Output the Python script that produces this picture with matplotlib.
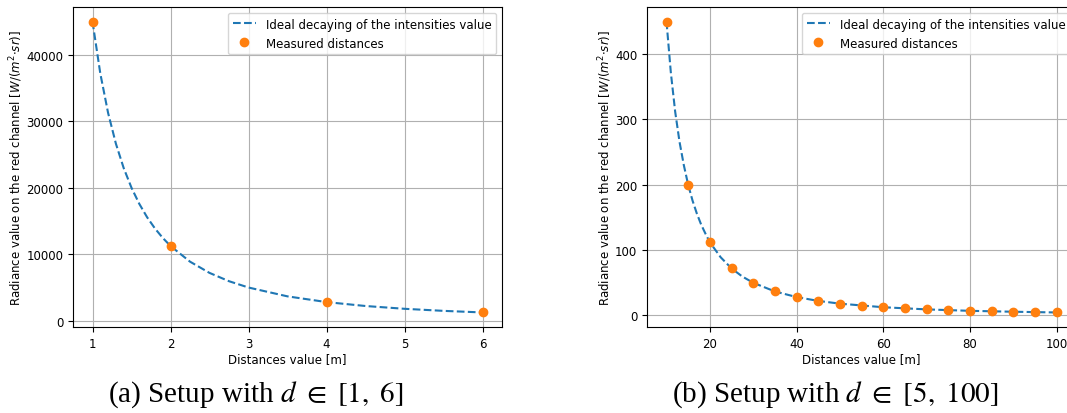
import matplotlib
matplotlib.use("Agg")
import matplotlib.pyplot as plt

# measured radiance at each distance
dist_a = [1, 2, 4, 6]
rad_a = [45000, 11250, 2812, 1250]

dist_b = [10, 15, 20, 25, 30, 35, 40, 45, 50, 55, 60, 65, 70, 75, 80, 85, 90, 95, 100]
rad_b = [450, 200, 112, 72, 50, 37, 28, 22, 18, 15, 12.5, 10.6, 9.2, 8, 7, 6.2, 5.6, 5, 4.5]

# ideal decay curve sampled along the distance axis
curve_xa = [1, 1.1, 1.2, 1.3, 1.4, 1.5, 1.6, 1.7, 1.8, 1.9, 2.0, 2.25, 2.5, 2.75, 3.0,
            3.5, 4.0, 4.5, 5.0, 5.5, 6.0]
curve_ya = [45000, 37190, 31250, 26630, 22960, 20000, 17580, 15570, 13890, 12470, 11250,
            8890, 7200, 5950, 5000, 3670, 2810, 2220, 1800, 1490, 1250]

curve_xb = [10, 11, 12, 13, 14, 15, 16, 17, 18, 19, 20, 22.5, 25, 27.5, 30, 35, 40, 45,
            50, 60, 70, 80, 90, 100]
curve_yb = [450, 372, 312, 266, 230, 200, 176, 156, 139, 125, 112, 89, 72, 59.5, 50, 36.7,
            28.1, 22.2, 18, 12.5, 9.2, 7, 5.6, 4.5]

captions = [r"(a) Setup with $d\ \in\ [1,\ 6]$", r"(b) Setup with $d\ \in\ [5,\ 100]$"]
ylab = r"Radiance value on the red channel [$W/(m^2{\cdot}sr)$]"

plt.rcParams["font.size"] = 8.5
plt.rcParams["mathtext.fontset"] = "dejavusans"

fig = plt.figure(figsize=(10.67, 4.14), dpi=100)
ax1 = fig.add_axes([73 / 1067, 1 - 328 / 414, 429 / 1067, 320 / 414])
ax2 = fig.add_axes([647 / 1067, 1 - 328 / 414, 429 / 1067, 320 / 414])

panels = [(ax1, curve_xa, curve_ya, dist_a, rad_a), (ax2, curve_xb, curve_yb, dist_b, rad_b)]
for ax, cx, cy, dx, dy in panels:
    ax.plot(cx, cy, "--", color="tab:blue", label="Ideal decaying of the intensities value")
    ax.plot(dx, dy, "o", color="tab:orange", markersize=6, label="Measured distances")
    ax.grid(True)
    ax.set_xlabel("Distances value [m]", labelpad=2)
    ax.set_ylabel(ylab, labelpad=1)
    ax.legend(loc="upper right", fontsize=8.5)

ax2.set_xticks([20, 40, 60, 80, 100])

for xc, cap in zip([256, 835], captions):
    fig.text(xc / 1067, 1 - 395 / 414, cap, ha="center", va="center",
             fontsize=21, family="Liberation Serif", math_fontfamily="stix")

fig.savefig("out.png", dpi=100)
